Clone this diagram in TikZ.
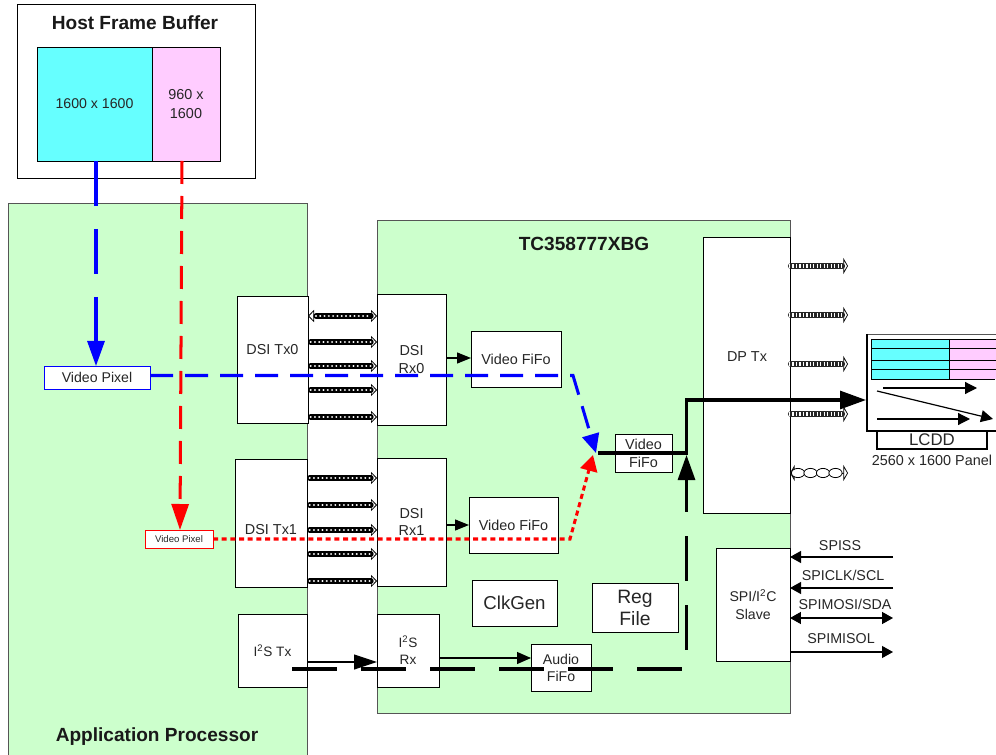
\documentclass[tikz,border=0pt]{standalone}
\usepackage{fontspec}
\setmainfont{Liberation Sans}
\usetikzlibrary{arrows.meta,calc}
\definecolor{pgreen}{HTML}{CCFFCC}
\definecolor{pcyan}{HTML}{66FFFF}
\definecolor{ppink}{HTML}{FFCCFF}
\definecolor{edge}{HTML}{555555}
\newcommand\fs[2]{\fontsize{#1pt}{#2pt}\selectfont}
\tikzset{
  x=0.75pt,y=-0.75pt,
  region/.style={draw=edge,line width=.7pt,fill=pgreen,inner sep=0,outer sep=0},
  whitebox/.style={draw=black,line width=.6pt,fill=white,inner sep=0,outer sep=0,align=center,text=black!85,font=\fs{10.8}{12.9}},
  bluestroke/.style={draw=blue,line width=2.26pt},
  redstroke/.style={draw=red,line width=2.26pt},
  blackstroke/.style={draw=black,line width=2.26pt},
  blackdash/.style={draw=black,line width=2.26pt,dash pattern=on 33.75pt off 18pt},
  headtip/.style 2 args={-{Triangle[length=#1*.75pt,width=#2*.75pt]}},
  thinarrow/.style={draw=black,line width=.9pt},
  twist/.style={line width=4pt,draw=black,line cap=round},
  twistholes/.style={line width=1.7pt,draw=white,line cap=round,dash pattern=on .01pt off 3.2pt},
  outtwist/.style={line width=4.6pt,draw=black!85,line cap=round},
  outholes/.style={line width=2.7pt,draw=white,dash pattern=on .9pt off 1.7pt},
  openhead/.style={draw=black,line width=.55pt,-{Triangle[open,fill=white,length=4.5pt,width=9pt]}},
  openback/.style={draw=black,line width=.55pt,{Triangle[open,fill=white,length=4.5pt,width=9pt]}-},
  outhead/.style={draw=black,line width=.55pt,-{Triangle[open,fill=white,length=3.5pt,width=12pt]}},
  outback/.style={draw=black,line width=.55pt,{Triangle[open,fill=white,length=3.5pt,width=12pt]}-},
  label/.style={inner sep=0,outer sep=0,text=black!85,font=\fs{10.7}{13}},
  title/.style={inner sep=0,outer sep=0,text=black!90,font=\fs{14.3}{17}\bfseries},
  rowline/.style={draw=black,line width=.6pt},
}
% name, x1, y1, x2, y2, style, text
\newcommand\bx[7]{%
  \pgfmathsetmacro\bw{(#4-#2)*0.75}\pgfmathsetmacro\bh{(#5-#3)*0.75}%
  \node[#6,minimum width=\bw pt,minimum height=\bh pt] (#1) at ({(#2+#4)/2},{(#3+#5)/2}) {#7};}
\newcommand\lane[3]{%
  \draw[openhead] ($(#2.west |- 0,#3)+(-9,0)$) -- (#2.west |- 0,#3);
  \draw[twist,shorten >=4.5pt,shorten <=2pt] (#1.east |- 0,#3) -- (#2.west |- 0,#3);
  \draw[twistholes,shorten >=4.5pt,shorten <=2pt] (#1.east |- 0,#3) -- (#2.west |- 0,#3);}
\newcommand\outlane[2]{%
  \draw[outhead] ($(#1.east |- 0,#2)+(48,0)$) -- ($(#1.east |- 0,#2)+(58,0)$);
  \draw[outtwist] ($(#1.east |- 0,#2)+(1,0)$) -- ($(#1.east |- 0,#2)+(52,0)$);
  \draw[outholes] ($(#1.east |- 0,#2)+(-1,0)$) -- ($(#1.east |- 0,#2)+(54,0)$);}
\begin{document}
\begin{tikzpicture}
\useasboundingbox (0,0) rectangle (996,755);
\fill[white] (0,0) rectangle (996,755);
\clip (0,0) rectangle (996,755);
% regions
\bx{host}{17}{4}{255}{178}{draw=black,line width=.6pt,fill=white,inner sep=0,outer sep=0}{}
\bx{ap}{8}{203}{307}{760}{region}{}
\bx{tc}{377}{220}{790}{713}{region}{}
% frame buffer
\bx{fbcyan}{37}{47}{152}{161}{draw=black,line width=.6pt,fill=pcyan,inner sep=0,outer sep=0,font=\fs{10.6}{13},text=black!85}{1600 x 1600}
\bx{fbpink}{152}{47}{220}{161}{draw=black,line width=.6pt,fill=ppink,inner sep=0,outer sep=0,align=center,font=\fs{10.8}{14.2},text=black!85}{960 x\\1600}
\node[title] (hosttitle) at (135,23) {Host Frame Buffer};
\node[title] (aptitle) at (157,737) {Application Processor};
\node[title] (tctitle) at (584,244) {TC358777XBG};
% boxes
\bx{tx0}{237}{296}{308}{423}{whitebox}{}
\node[label,font=\fs{10.8}{13}] (tx0txt) at (272.5,350) {DSI Tx0};
\bx{rx0}{377}{294}{446}{425}{whitebox}{DSI\\Rx0}
\bx{tx1}{235}{459}{307}{587}{whitebox}{}
\node[label,font=\fs{10.8}{13}] (tx1txt) at (271,530) {DSI Tx1};
\bx{rx1}{377}{458}{446}{586}{whitebox}{DSI\\Rx1}
\bx{vf0}{471}{331}{561}{387}{whitebox}{Video FiFo}
\bx{vf1}{469}{497}{558}{553}{whitebox}{Video FiFo}
\bx{vf2}{615}{434}{672}{472}{whitebox,font=\fs{10.8}{13.5}}{Video\\FiFo}
\bx{dptx}{703}{237}{790}{513}{whitebox}{}
\node[label,font=\fs{10.8}{13}] (dptxt) at (747,357) {DP Tx};
\bx{clk}{472}{580}{557}{626}{whitebox,font=\fs{14}{15}}{ClkGen}
\bx{reg}{592}{583}{678}{632}{whitebox,font=\fs{14.5}{16.5}}{Reg\\File}
\bx{spi}{716}{548}{790}{661}{whitebox,font=\fs{10.6}{13}}{SPI/I\textsuperscript{2}C\\Slave}
\bx{i2stx}{238}{614}{307}{687}{whitebox,font=\fs{10.2}{13}}{I\textsuperscript{2}S Tx}
\bx{i2srx}{377}{614}{439}{687}{whitebox,font=\fs{10.2}{12.8}}{I\textsuperscript{2}S\\Rx}
\bx{audio}{531}{644}{591}{691}{whitebox,font=\fs{10.6}{12.8}}{Audio\\FiFo}
\bx{vpblue}{44}{366}{150}{389}{draw=blue,line width=.6pt,fill=white,inner sep=0,outer sep=0,font=\fs{10.6}{12},text=black!85}{Video Pixel}
\bx{vpred}{145}{530}{213}{548}{draw=red,line width=.6pt,fill=white,inner sep=0,outer sep=0,font=\fs{7.2}{8},text=black!85}{Video Pixel}
% lanes
\foreach \yy in {342,366,390,417} {\lane{tx0}{rx0}{\yy}}
\draw[openback] (tx0.east |- 0,316) -- ($(tx0.east |- 0,316)+(9,0)$);
\draw[openhead] ($(rx0.west |- 0,316)+(-9,0)$) -- (rx0.west |- 0,316);
\draw[twist,shorten >=4.5pt,shorten <=6pt] (tx0.east |- 0,316) -- (rx0.west |- 0,316);
\draw[twistholes,shorten >=4.5pt,shorten <=6pt] (tx0.east |- 0,316) -- (rx0.west |- 0,316);
\foreach \yy in {478,505,530,554,581} {\lane{tx1}{rx1}{\yy}}
\foreach \yy in {266,315,364,414} {\outlane{dptx}{\yy}}
% differential pair
\coordinate (diffs) at (dptx.east |- 0,473);
\draw[outback] (diffs) -- ($(diffs)+(9,0)$);
\draw[outhead] ($(diffs)+(48,0)$) -- ($(diffs)+(58,0)$);
\foreach \k in {0,1,2,3} {\draw[black,line width=.6pt,fill=white] ($(diffs)+(8+\k*12.5,0)$) ellipse [x radius=6.6*.75pt,y radius=4.6*.75pt];}
% SPI pins
\coordinate (pinss) at (893,557);
\coordinate (pinclk) at (893,588);
\coordinate (pinmosi) at (893,618);
\coordinate (pinmiso) at (893,652);
\draw[thinarrow,headtip={11}{12}] (pinss) -- (spi.east |- pinss);
\draw[thinarrow,headtip={11}{12}] (pinclk) -- (spi.east |- pinclk);
\draw[thinarrow,{Triangle[length=8.2pt,width=9pt]}-{Triangle[length=8.2pt,width=9pt]}] (spi.east |- pinmosi) -- (pinmosi);
\draw[thinarrow,headtip={11}{12}] (spi.east |- pinmiso) -- (pinmiso);
\node[label] (lss) at (840,546) {SPISS};
\node[label] (lclk) at (843,575) {SPICLK/SCL};
\node[label] (lmosi) at (845,604) {SPIMOSI/SDA};
\node[label] (lmiso) at (841,639) {SPIMISOL};
% small black arrows
\draw[thinarrow,headtip={14}{11}] (rx0.east |- 0,358) -- (vf0.west |- 0,358);
\draw[thinarrow,headtip={14}{11}] (rx1.east |- 0,525) -- (vf1.west |- 0,525);
\draw[thinarrow,headtip={23}{15}] (i2stx.east |- 0,662) -- (i2srx.west |- 0,662);
\draw[thinarrow,headtip={14}{12}] (i2srx.east |- 0,658) -- (audio.west |- 0,658);
% panel
\coordinate (panelin) at (866,400);
\fill[white] (866,335) rectangle (996,431);
\fill[pcyan] (871,339) rectangle (949,379);
\fill[ppink] (949,339) rectangle (996,379);
\draw[rowline] (871,339) -- (996,339) (871,348) -- (996,348) (871,360) -- (996,360) (871,369) -- (996,369) (871,379) -- (995,379) (871,339) -- (871,379) (949,339) -- (949,379);
\draw[draw=edge,line width=.9pt] (866,334.5) -- (996,334.5);
\draw[black,line width=1.5pt] (867,334) -- (867,431) -- (996,431);
\coordinate (p1a) at (883,388); \coordinate (p1b) at (977,388);
\coordinate (p2a) at (877,391); \coordinate (p2b) at (993,419);
\coordinate (p3a) at (877,419); \coordinate (p3b) at (970,419);
\draw[thinarrow,headtip={12}{12}] (p1a) -- (p1b);
\draw[thinarrow,headtip={12}{12}] (p2a) -- (p2b);
\draw[thinarrow,headtip={12}{12}] (p3a) -- (p3b);
\bx{lcdd}{877}{431}{987}{449}{draw=black,line width=1pt,fill=white,inner sep=0,outer sep=0,font=\fs{12.6}{14},text=black!85}{LCDD}
\node[label,font=\fs{10.8}{13}] (paneltxt) at (932,460) {2560 x 1600 Panel};
% video lines
\coordinate (merge) at (598,453);
\coordinate (vbend) at (573,375.5);
\coordinate (rbend) at (570,539);
\coordinate (vtip) at (596,453);
\coordinate (rtip) at (593,455);
\coordinate (bcorner) at (686.5,669);
\coordinate (i2sstart) at (292,669);
\coordinate (tipb) at (686.5,455);
\draw[bluestroke,dash pattern=on 33.75pt off 17.25pt,headtip={25}{17}] (fbcyan.south -| 96,0) -- (vpblue.north -| 96,0);
\draw[bluestroke,dash pattern=on 17.25pt off 9pt,headtip={19}{17}] (vpblue.east |- vbend) -- (vbend) -- (vtip);
\draw[redstroke,dash pattern=on 17.25pt off 9pt,headtip={26}{17}] (fbpink.south -| 182,0) -- (vpred.north -| 180,0);
\draw[redstroke,dash pattern=on 3.8pt off 2.7pt,headtip={16}{17}] (vpred.east) -- (rbend) -- (rtip);
\draw[blackstroke,headtip={26}{18}] (merge) -- (686.5,453) -- (686.5,400) -- (panelin);
\draw[blackdash,headtip={25}{17}] (i2sstart) -- (bcorner) -- (tipb);
\end{tikzpicture}
\end{document}
